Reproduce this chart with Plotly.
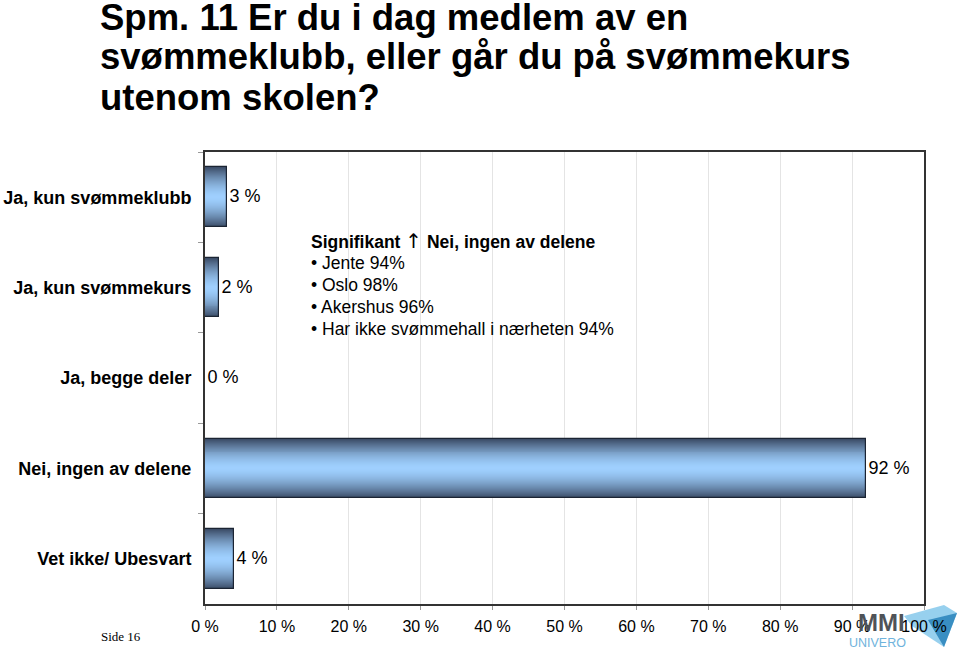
import plotly.graph_objects as go

categories = ["Ja, kun svømmeklubb", "Ja, kun svømmekurs", "Ja, begge deler",
              "Nei, ingen av delene", "Vet ikke/ Ubesvart"]
values = [3, 2, 0, 92, 4]
value_labels = ["3 %", "2 %", "0 %", "92 %", "4 %"]
x_ticks = list(range(0, 101, 10))
x_tick_labels = [f"{v} %" for v in x_ticks]

title_lines = ["Spm. 11 Er du i dag medlem av en",
               "svømmeklubb, eller går du på svømmekurs",
               "utenom skolen?"]
note_lines = ["\u2022 Jente 94%", "\u2022 Oslo 98%", "\u2022 Akershus 96%",
              "\u2022 Har ikke svømmehall i nærheten 94%"]

# plot area in pixels
L, R, T, B = 205, 924, 152, 604
W, H = 960, 650


def px(x):
    return (x - L) / (R - L)


def py(y):
    return (B - y) / (B - T)


FONT = "Liberation Sans, Arial, sans-serif"


def mix(c1, c2, t):
    a = [int(c1[i:i + 2], 16) for i in (1, 3, 5)]
    b = [int(c2[i:i + 2], 16) for i in (1, 3, 5)]
    return "#" + "".join(f"{round(a[k] + (b[k] - a[k]) * t):02x}" for k in range(3))


fig = go.Figure()

# smooth vertical gradient simulation: overlaid bars of decreasing width
DARK, LIGHT = "#3c4d68", "#9fd0ff"
BAR_W = 0.66
N_LAYERS = 30
for k in range(N_LAYERS):
    frac = 1 - k / N_LAYERS          # 1 at edge -> small at centre
    w = BAR_W * frac
    c = mix(LIGHT, DARK, frac ** 1.6)
    fig.add_trace(go.Bar(y=categories, x=values, orientation="h",
                         width=[w] * len(values),
                         marker=dict(color=c, line=dict(width=0)),
                         hoverinfo="skip", showlegend=False))

fig.add_trace(go.Bar(y=categories, x=values, orientation="h",
                     width=[BAR_W] * len(values),
                     marker=dict(color="rgba(0,0,0,0)",
                                 line=dict(color="#1b2433", width=1.2)),
                     text=value_labels, textposition="outside",
                     textfont=dict(family=FONT, size=18, color="#000"),
                     cliponaxis=False, showlegend=False))

annotations = []
for i, line in enumerate(title_lines):
    annotations.append(dict(text=line, xref="paper", yref="paper",
                            x=px(98), y=py(17 + 40 * i), xanchor="left", yanchor="middle",
                            showarrow=False,
                            font=dict(family=FONT, size=36.5, color="#000", weight="bold")))

annotations.append(dict(text="<b>Signifikant </b><span style='font-family:DejaVu Sans;font-size:20px'>\u2191</span><b> Nei, ingen av delene</b>",
                        xref="paper", yref="paper",
                        x=px(309), y=py(241), xanchor="left", yanchor="middle",
                        showarrow=False, font=dict(family=FONT, size=17.5, color="#000")))
for i, line in enumerate(note_lines):
    annotations.append(dict(text=line, xref="paper", yref="paper",
                            x=px(309), y=py(263 + 22 * i), xanchor="left", yanchor="middle",
                            showarrow=False, font=dict(family=FONT, size=17.5, color="#000")))

annotations.append(dict(text="Side 16", xref="paper", yref="paper",
                        x=px(99), y=py(636), xanchor="left", yanchor="middle",
                        showarrow=False,
                        font=dict(family="Liberation Serif, Times New Roman, serif",
                                  size=13, color="#000")))
annotations.append(dict(text="<b>MMI</b>", xref="paper", yref="paper",
                        x=px(881), y=py(622), xanchor="center", yanchor="middle",
                        showarrow=False,
                        font=dict(family=FONT, size=24, color="#4f5358")))
annotations.append(dict(text="UNIVERO", xref="paper", yref="paper",
                        x=px(877), y=py(643), xanchor="center", yanchor="middle",
                        showarrow=False,
                        font=dict(family=FONT, size=12.5, color="#6fb3dc")))

shapes = [
    dict(type="path", xref="paper", yref="paper", layer="below",
         path=(f"M {px(904)} {py(616)} L {px(944)} {py(605)} L {px(957)} {py(613)} "
               f"L {px(944)} {py(647)} L {px(912)} {py(626)} Z"),
         fillcolor="#8ccbec", line=dict(width=0), opacity=0.9),
    dict(type="path", xref="paper", yref="paper", layer="below",
         path=(f"M {px(928)} {py(620)} L {px(957)} {py(613)} L {px(944)} {py(647)} Z"),
         fillcolor="#2f86bd", line=dict(width=0), opacity=0.9),
]

fig.update_layout(
    width=W, height=H,
    margin=dict(l=L, r=W - R, t=T, b=H - B, pad=0),
    paper_bgcolor="white", plot_bgcolor="white",
    barmode="overlay", bargap=0,
    font=dict(family=FONT, size=16, color="#000"),
    annotations=annotations, shapes=shapes,
    xaxis=dict(range=[0, 100], tickvals=x_ticks, ticktext=x_tick_labels,
               showgrid=True, gridcolor="#e4e4e4", gridwidth=1,
               showline=True, linecolor="#333", linewidth=2, mirror=True,
               ticks="outside", ticklen=4, tickcolor="#999",
               tickfont=dict(family=FONT, size=16, color="#000"),
               ticklabelstandoff=3, zeroline=False, fixedrange=True,
               automargin=False),
    yaxis=dict(autorange="reversed", type="category",
               showline=True, linecolor="#333", linewidth=2, mirror=True,
               ticks="outside", ticklen=5, tickcolor="#999", tickson="boundaries",
               tickfont=dict(family=FONT, size=18, color="#000", weight="bold"),
               ticklabelstandoff=8, showgrid=False, fixedrange=True,
               automargin=False),
)

fig.write_html("out.html")
